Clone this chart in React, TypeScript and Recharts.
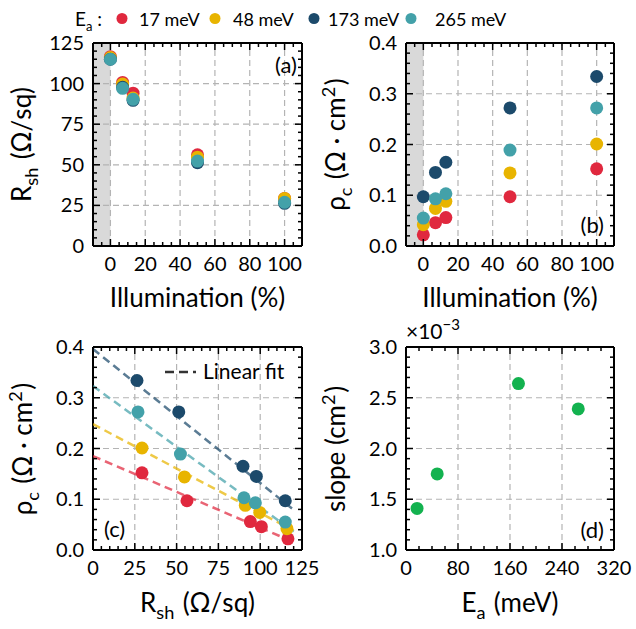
import React from "react";
import { ScatterChart, Scatter, XAxis, YAxis, ReferenceArea, ReferenceLine } from "recharts";

const FONT = "Lato, 'Open Sans', sans-serif";
const W = 636;
const H = 629;

// series: activation energies
const seriesNames = ["17 meV", "48 meV", "173 meV", "265 meV"];
const colors = ["#e0283e", "#e8b400", "#1c4a6b", "#43a1a9"];
const energies = [17, 48, 173, 265];

// illumination (%)
const illumination = [0, 7, 13, 50, 100];

// sheet resistance (ohm/sq) per illumination
const rsh17 = [116.6, 100.7, 94.1, 56.2, 29.3];
const rsh48 = [116.0, 99.7, 91.1, 54.7, 29.3];
const rsh173 = [115.0, 97.7, 89.7, 51.3, 26.3];
const rsh265 = [115.0, 97.1, 90.3, 52.3, 26.9];

// contact resistivity (ohm cm2) per illumination
const rho17 = [0.022, 0.046, 0.056, 0.097, 0.152];
const rho48 = [0.042, 0.074, 0.088, 0.144, 0.201];
const rho173 = [0.097, 0.145, 0.165, 0.272, 0.334];
const rho265 = [0.055, 0.093, 0.103, 0.189, 0.272];

// linear fit rho_c vs R_sh
const fitIntercept = [0.185, 0.248, 0.396, 0.323];
const slopes = [1.41, 1.75, 2.64, 2.39]; // x1e-3 cm2
const fitRange = [0, 120];

const rshSeries = [rsh17, rsh48, rsh173, rsh265];
const rhoSeries = [rho17, rho48, rho173, rho265];

const range = (a: number, b: number, step: number) => {
  const out: number[] = [];
  const n = Math.round((b - a) / step);
  for (let i = 0; i <= n; i++) out.push(+(a + i * step).toFixed(6));
  return out;
};

const illumMajor = [0, 20, 40, 60, 80, 100];
const rshMajor = [0, 25, 50, 75, 100, 125];
const rhoMajor = [0, 0.1, 0.2, 0.3, 0.4];
const eaMajor = [0, 80, 160, 240, 320];
const slopeMajor = [1.0, 1.5, 2.0, 2.5, 3.0];

type Box = { l: number; r: number; t: number; b: number };

const isMajor = (v: number, majors: number[]) => majors.some((m) => Math.abs(m - v) < 1e-6);

const mkTick =
  (side: "bottom" | "top" | "left" | "right", majors: number[], fmt: (v: number) => string) =>
  (p: any) => {
    const v = p.payload.value;
    const major = isMajor(v, majors);
    const len = major ? 7 : 4;
    const { x, y } = p;
    const st = { stroke: "#000", strokeWidth: 1.5 };
    if (side === "bottom")
      return (
        <g>
          <line x1={x} y1={y} x2={x} y2={y - len} {...st} />
          {major && (
            <text x={x} y={y + 25} textAnchor="middle" fontSize={20} fontFamily={FONT} fill="#000">
              {fmt(v)}
            </text>
          )}
        </g>
      );
    if (side === "top")
      return (
        <g>
          <line x1={x} y1={y} x2={x} y2={y + len} {...st} />
        </g>
      );
    if (side === "left")
      return (
        <g>
          <line x1={x} y1={y} x2={x + len} y2={y} {...st} />
          {major && (
            <text x={x - 9} y={y + 7} textAnchor="end" fontSize={20} fontFamily={FONT} fill="#000">
              {fmt(v)}
            </text>
          )}
        </g>
      );
    return (
      <g>
        <line x1={x} y1={y} x2={x - len} y2={y} {...st} />
      </g>
    );
  };

const intFmt = (v: number) => String(Math.round(v));
const oneFmt = (v: number) => v.toFixed(1);

function Panel(props: {
  box: Box;
  xDomain: number[];
  xMajor: number[];
  xStep: number;
  xFmt: (v: number) => string;
  yDomain: number[];
  yMajor: number[];
  yStep: number;
  yFmt: (v: number) => string;
  shade?: boolean;
  children?: React.ReactNode;
}) {
  const { box, xDomain, xMajor, xStep, xFmt, yDomain, yMajor, yStep, yFmt } = props;
  const margin = { left: box.l - 1, right: W - box.r - 1, top: box.t - 1, bottom: H - box.b - 1 };
  const xTicks = range(xDomain[0], xDomain[1], xStep);
  const yTicks = range(yDomain[0], yDomain[1], yStep);
  const axisLine = { stroke: "#000", strokeWidth: 2 };
  const common = { type: "number" as const, tickSize: 0, tickMargin: 0, tickLine: false, interval: 0 as const, axisLine, allowDataOverflow: true };
  const xGrid = xMajor.filter((v) => v > xDomain[0] && v < xDomain[1]);
  const yGrid = yMajor.filter((v) => v > yDomain[0] && v < yDomain[1]);
  return (
    <div style={{ position: "absolute", left: 0, top: 0 }}>
      <ScatterChart width={W} height={H} margin={margin}>
        <XAxis {...common} xAxisId="b" dataKey="x" orientation="bottom" height={1} domain={xDomain} ticks={xTicks} tick={mkTick("bottom", xMajor, xFmt)} />
        <XAxis {...common} xAxisId="t" dataKey="x" orientation="top" height={1} domain={xDomain} ticks={xTicks} tick={mkTick("top", xMajor, xFmt)} />
        <YAxis {...common} yAxisId="l" dataKey="y" orientation="left" width={1} domain={yDomain} ticks={yTicks} tick={mkTick("left", yMajor, yFmt)} />
        <YAxis {...common} yAxisId="r" dataKey="y" orientation="right" width={1} domain={yDomain} ticks={yTicks} tick={mkTick("right", yMajor, yFmt)} />
        {props.shade && (
          <ReferenceArea xAxisId="b" yAxisId="l" x1={xDomain[0]} x2={0} y1={yDomain[0]} y2={yDomain[1]} fill="#d9d9d9" fillOpacity={1} stroke="none" />
        )}
        {xGrid.map((v) => (
          <ReferenceLine key={"gx" + v} xAxisId="b" yAxisId="l" x={v} stroke="#b4b4b4" strokeWidth={1.2} strokeDasharray="6 4" />
        ))}
        {yGrid.map((v) => (
          <ReferenceLine key={"gy" + v} xAxisId="b" yAxisId="l" y={v} stroke="#b4b4b4" strokeWidth={1.2} strokeDasharray="6 4" />
        ))}
        {props.children}
      </ScatterChart>
    </div>
  );
}

const dot = (fill: string, r = 6.5) => (p: any) => <circle cx={p.cx} cy={p.cy} r={r} fill={fill} />;
const noShape = () => <g />;

const boxA = { l: 93, r: 302, t: 43, b: 246 };
const boxB = { l: 406, r: 614, t: 43, b: 246 };
const boxC = { l: 93, r: 302, t: 347, b: 550 };
const boxD = { l: 406, r: 614, t: 347, b: 550 };

const lbl = { fontFamily: FONT, fill: "#000" };

function Overlay() {
  const axisFs = 26;
  const sub = (t: string) => (
    <>
      <tspan dy={7} fontSize={axisFs * 0.7}>{t}</tspan>
      <tspan dy={-7}>{"\u200a"}</tspan>
    </>
  );
  const sup = (t: string) => (
    <>
      <tspan dy={-10} fontSize={axisFs * 0.7}>{t}</tspan>
      <tspan dy={10}>{"\u200a"}</tspan>
    </>
  );
  const rshLabel = (
    <>
      R{sub("sh")} (Ω/sq)
    </>
  );
  const rhoLabel = (
    <>
      ρ{sub("c")} (Ω · cm{sup("2")})
    </>
  );
  const ylab = (x: number, y: number, content: React.ReactNode) => (
    <text x={x} y={y} transform={`rotate(-90 ${x} ${y})`} textAnchor="middle" fontSize={axisFs} {...lbl}>
      {content}
    </text>
  );
  const xlab = (x: number, y: number, content: React.ReactNode) => (
    <text x={x} y={y} textAnchor="middle" fontSize={axisFs} {...lbl}>
      {content}
    </text>
  );
  const legendX = [122, 215, 314, 411];
  const legendTx = [139, 233, 328, 435];
  return (
    <svg width={W} height={H} style={{ position: "absolute", left: 0, top: 0, pointerEvents: "none" }}>
      {/* top legend */}
      <text x={75} y={26} fontSize={19} {...lbl}>
        E<tspan dy={5} fontSize={13}>a</tspan>
        <tspan dy={-5}> :</tspan>
      </text>
      {seriesNames.map((n, i) => (
        <g key={n}>
          <circle cx={legendX[i]} cy={18.5} r={5.5} fill={colors[i]} />
          <text x={legendTx[i]} y={26} fontSize={18} {...lbl}>
            {n}
          </text>
        </g>
      ))}
      {/* axis labels */}
      {ylab(31, 144.5, rshLabel)}
      {ylab(345, 144.5, rhoLabel)}
      {ylab(32, 449, rhoLabel)}
      {ylab(345, 449, <>slope (cm{sup("2")})</>)}
      {xlab(197.5, 307, "Illumination (%)")}
      {xlab(510, 307, "Illumination (%)")}
      {xlab(197.5, 612, rshLabel)}
      {xlab(510, 612, <>E{sub("a")} (meV)</>)}
      {/* panel tags */}
      <text x={297} y={73} textAnchor="end" fontSize={22} {...lbl}>(a)</text>
      <text x={604} y={233} textAnchor="end" fontSize={22} {...lbl}>(b)</text>
      <text x={104} y={537} fontSize={22} {...lbl}>(c)</text>
      <text x={604} y={538} textAnchor="end" fontSize={22} {...lbl}>(d)</text>
      {/* fit legend */}
      <line x1={165} y1={372} x2={196} y2={372} stroke="#333" strokeWidth={2.5} strokeDasharray="9 5" />
      <text x={203} y={379} fontSize={21} {...lbl}>Linear fit</text>
      {/* exponent */}
      <text x={406} y={339} fontSize={21} {...lbl}>
        ×10<tspan dy={-9} fontSize={15}>−3</tspan>
      </text>
    </svg>
  );
}

export default function App() {
  return (
    <div style={{ position: "absolute", left: 0, top: 0, width: W, height: H, background: "#fff" }}>
      <Panel box={boxA} xDomain={[-10, 110]} xMajor={illumMajor} xStep={5} xFmt={intFmt} yDomain={[0, 125]} yMajor={rshMajor} yStep={5} yFmt={intFmt} shade>
        {rshSeries.map((s, k) => (
          <Scatter key={k} xAxisId="b" yAxisId="l" data={illumination.map((x, i) => ({ x, y: s[i] }))} shape={dot(colors[k])} isAnimationActive={false} />
        ))}
      </Panel>
      <Panel box={boxB} xDomain={[-10, 110]} xMajor={illumMajor} xStep={5} xFmt={intFmt} yDomain={[0, 0.4]} yMajor={rhoMajor} yStep={0.02} yFmt={oneFmt} shade>
        {rhoSeries.map((s, k) => (
          <Scatter key={k} xAxisId="b" yAxisId="l" data={illumination.map((x, i) => ({ x, y: s[i] }))} shape={dot(colors[k])} isAnimationActive={false} />
        ))}
      </Panel>
      <Panel box={boxC} xDomain={[0, 125]} xMajor={rshMajor} xStep={5} xFmt={intFmt} yDomain={[0, 0.4]} yMajor={rhoMajor} yStep={0.02} yFmt={oneFmt}>
        {fitIntercept.map((b, k) => (
          <Scatter
            key={"fit" + k}
            xAxisId="b"
            yAxisId="l"
            data={fitRange.map((x) => ({ x, y: b - slopes[k] * 1e-3 * x }))}
            shape={noShape}
            line={{ stroke: colors[k], strokeWidth: 2.5, strokeDasharray: "8 5", strokeOpacity: 0.72 }}
            isAnimationActive={false}
          />
        ))}
        {rhoSeries.map((s, k) => (
          <Scatter key={k} xAxisId="b" yAxisId="l" data={rshSeries[k].map((x, i) => ({ x, y: s[i] }))} shape={dot(colors[k])} isAnimationActive={false} />
        ))}
      </Panel>
      <Panel box={boxD} xDomain={[0, 320]} xMajor={eaMajor} xStep={20} xFmt={intFmt} yDomain={[1, 3]} yMajor={slopeMajor} yStep={0.1} yFmt={oneFmt}>
        <Scatter xAxisId="b" yAxisId="l" data={energies.map((x, i) => ({ x, y: slopes[i] }))} shape={dot("#13b24f")} isAnimationActive={false} />
      </Panel>
      <Overlay />
    </div>
  );
}
